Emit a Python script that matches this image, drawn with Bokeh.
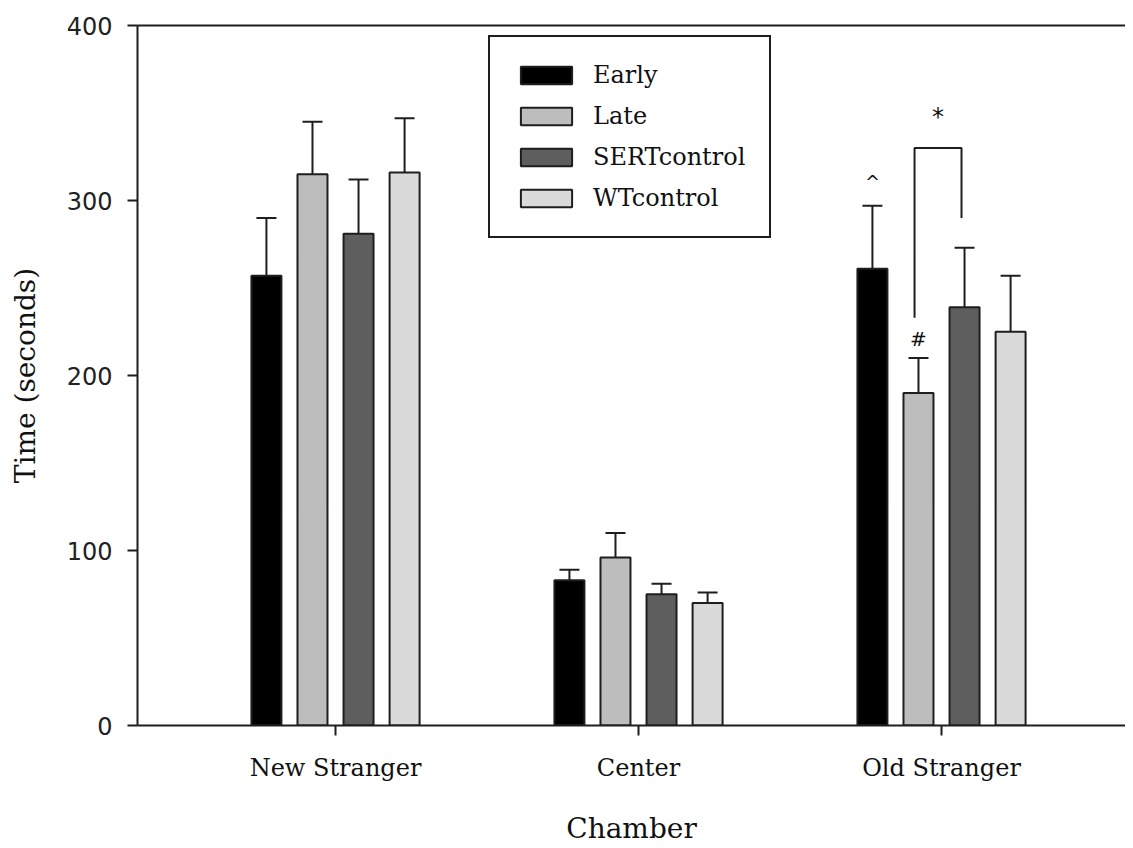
import numpy as np
from bokeh.plotting import figure
from bokeh.models import (ColumnDataSource, Whisker, TeeHead, Legend, LegendItem,
                          FixedTicker, LinearAxis, Range1d)
from bokeh.core.properties import value
from bokeh.embed import file_html
from bokeh.resources import INLINE

# ---- data ----
chambers = ["New Stranger", "Center", "Old Stranger"]
groups = ["Early", "Late", "SERTcontrol", "WTcontrol"]
early = [257, 83, 261]
early_sem = [33, 6, 36]
late = [315, 96, 190]
late_sem = [30, 14, 20]
sert = [281, 75, 239]
sert_sem = [31, 6, 34]
wt = [316, 70, 225]
wt_sem = [31, 6, 32]
y_ticks = [0, 100, 200, 300, 400]

means = [early, late, sert, wt]
sems = [early_sem, late_sem, sert_sem, wt_sem]
colors = ["#000000", "#bdbdbd", "#5e5e5e", "#dadada"]

centers = np.arange(1, len(chambers) + 1)
step = 0.152
bar_w = 0.099
offsets = [-1.5 * step, -0.5 * step, 0.5 * step, 1.5 * step]

W, H = 1125, 848
p = figure(width=W, height=H,
           x_range=Range1d(0.3465, 0.3465 + (W - 137) / 303.0), y_range=Range1d(0, 400),
           output_backend="svg", toolbar_location=None,
           min_border_left=137, min_border_right=0,
           min_border_top=25, min_border_bottom=H - 725)
p.outline_line_color = None
p.xgrid.visible = False
p.ygrid.visible = False
p.background_fill_color = "white"

edge = "#1e1e1e"
renderers = []
for g, m, s, c, off in zip(groups, means, sems, colors, offsets):
    xs = centers + off
    m = np.array(m, dtype=float)
    s = np.array(s, dtype=float)
    src = ColumnDataSource(dict(x=xs, top=m, lower=m, upper=m + s))
    r = p.vbar(x="x", top="top", width=bar_w, source=src, fill_color=c,
               line_color=edge, line_width=2)
    renderers.append(r)
    w = Whisker(base="x", lower="lower", upper="upper", source=src,
                lower_head=None,
                upper_head=TeeHead(size=20, line_width=2, line_color=edge),
                line_width=2, line_color=edge)
    p.add_layout(w)

# significance annotations (Old Stranger group)
oi = 2
late_x = centers[oi] + offsets[1] - 0.013
sert_x = centers[oi] + offsets[2] - 0.010
p.line(x=[late_x, late_x, sert_x, sert_x], y=[233, 330, 330, 290],
       line_color=edge, line_width=2)
ann = ColumnDataSource(dict(
    x=[centers[oi] + offsets[0], centers[oi] + offsets[1], (late_x + sert_x) / 2],
    y=[np.array(early)[oi] + 50, np.array(late)[oi] + 31, 348],
    t=["^", "#", "*"],
    size=["18px", "20px", "24px"]))
p.text(x="x", y="y", text="t", source=ann, text_align="center",
       text_baseline="middle", text_font=value("DejaVu Sans"),
       text_font_size="size", text_color="#111")

# axes
xa = p.xaxis[0]
xa.ticker = FixedTicker(ticks=list(centers))
xa.major_label_overrides = {int(c): n for c, n in zip(centers, chambers)}
xa.major_tick_out = 10
xa.major_tick_in = 0
xa.minor_tick_line_color = None
xa.axis_line_width = 2
xa.axis_line_color = edge
xa.major_tick_line_width = 2
xa.major_tick_line_color = edge
xa.major_label_text_font = "DejaVu Serif"
xa.major_label_text_font_size = "24px"
xa.major_label_text_color = "#111"
xa.major_label_standoff = 18
xa.axis_label = "Chamber"
xa.axis_label_text_font = "DejaVu Serif"
xa.axis_label_text_font_size = "28px"
xa.axis_label_text_font_style = "normal"
xa.axis_label_text_color = "#111"
xa.axis_label_standoff = 27

ya = p.yaxis[0]
ya.ticker = FixedTicker(ticks=y_ticks)
ya.major_tick_out = 10
ya.major_tick_in = 0
ya.minor_tick_line_color = None
ya.axis_line_width = 2
ya.axis_line_color = edge
ya.major_tick_line_width = 2
ya.major_tick_line_color = edge
ya.major_label_text_font = "DejaVu Sans"
ya.major_label_text_font_size = "24px"
ya.major_label_text_color = "#222"
ya.major_label_standoff = 15
ya.axis_label = "Time (seconds)"
ya.axis_label_text_font = "DejaVu Serif"
ya.axis_label_text_font_size = "28px"
ya.axis_label_text_font_style = "normal"
ya.axis_label_text_color = "#111"
ya.axis_label_standoff = 22

top_axis = LinearAxis(ticker=FixedTicker(ticks=[]), axis_line_width=2,
                      axis_line_color=edge, major_tick_out=0, major_tick_in=0,
                      minor_tick_line_color=None, major_label_text_font_size="0px",
                      major_label_standoff=0)
p.add_layout(top_axis, "above")

legend = Legend(items=[LegendItem(label=g, renderers=[r]) for g, r in zip(groups, renderers)],
                location=(351, 487), margin=0, padding=24, spacing=13,
                glyph_width=64, glyph_height=22, label_standoff=15, label_width=152,
                label_text_font="DejaVu Serif", label_text_font_size="24px",
                label_text_color="#111",
                border_line_color=edge, border_line_width=2, border_line_alpha=1.0,
                background_fill_color="white", background_fill_alpha=1.0)
p.add_layout(legend)

open("out.html", "w").write(file_html(p, INLINE))
